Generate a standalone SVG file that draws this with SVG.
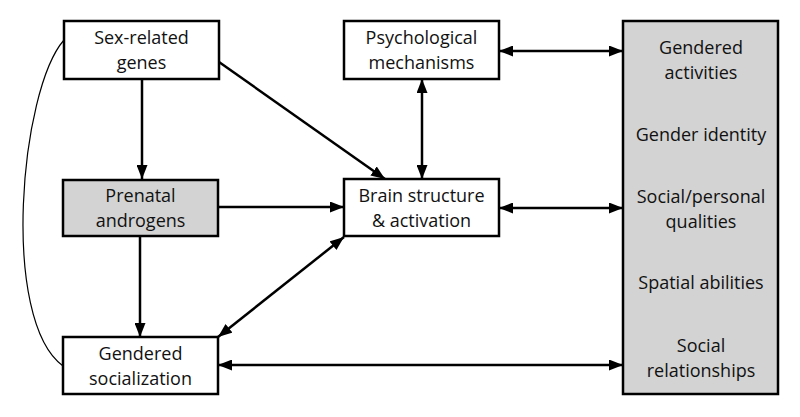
<svg xmlns="http://www.w3.org/2000/svg" width="800" height="417" viewBox="0 0 800 417">
<style>
.box{fill:#fff;stroke:#000;stroke-width:2.5}
.grey{fill:#d3d3d3}
text{font-family:"Open Sans","Liberation Sans",sans-serif;font-size:18px;fill:#111;text-anchor:middle}
.c{stroke:#000;stroke-width:2.5;fill:none}
</style>
<defs>
<marker id="ah" viewBox="0 0 14 11" refX="14" refY="5.5" markerWidth="14" markerHeight="11" markerUnits="userSpaceOnUse" orient="auto-start-reverse">
<path d="M0,0 L14,5.5 L0,11 Z" fill="#000"/>
</marker>
</defs>
<rect width="800" height="417" fill="#fff"/>
<g id="connectors">
<path d="M64,40 C20,90 0,320 63,366" stroke="#000" stroke-width="1.2" fill="none"/>
<line class="c" x1="142" y1="79" x2="142" y2="179" marker-end="url(#ah)"/>
<line class="c" x1="219" y1="62" x2="385" y2="179" marker-end="url(#ah)"/>
<line class="c" x1="218" y1="207" x2="344" y2="207" marker-end="url(#ah)"/>
<line class="c" x1="140" y1="236" x2="140" y2="337" marker-end="url(#ah)"/>
<line class="c" x1="218" y1="337" x2="344" y2="237" marker-start="url(#ah)" marker-end="url(#ah)"/>
<line class="c" x1="422" y1="79" x2="422" y2="179" marker-start="url(#ah)" marker-end="url(#ah)"/>
<line class="c" x1="499" y1="51" x2="623" y2="51" marker-start="url(#ah)" marker-end="url(#ah)"/>
<line class="c" x1="499" y1="208" x2="623" y2="208" marker-start="url(#ah)" marker-end="url(#ah)"/>
<line class="c" x1="218" y1="365" x2="623" y2="365" marker-start="url(#ah)" marker-end="url(#ah)"/>
</g>
<g id="genes">
<rect class="box" x="64" y="21" width="155" height="58"/>
<text x="141.5" y="44">Sex-related</text>
<text x="141.5" y="69">genes</text>
</g>
<g id="prenatal">
<rect class="box grey" x="63" y="180" width="155" height="56"/>
<text x="140.5" y="202">Prenatal</text>
<text x="140.5" y="227">androgens</text>
</g>
<g id="socialization">
<rect class="box" x="63" y="337" width="155" height="57"/>
<text x="140.5" y="360">Gendered</text>
<text x="140.5" y="385">socialization</text>
</g>
<g id="psychological">
<rect class="box" x="344" y="21" width="155" height="58"/>
<text x="421.5" y="44">Psychological</text>
<text x="421.5" y="69">mechanisms</text>
</g>
<g id="brain">
<rect class="box" x="344" y="179" width="155" height="57"/>
<text x="421.5" y="202">Brain structure</text>
<text x="421.5" y="227">&amp; activation</text>
</g>
<g id="outcomes">
<rect class="box grey" x="623" y="21" width="155" height="373"/>
<text x="701" y="54">Gendered</text>
<text x="701" y="79">activities</text>
<text x="701" y="141">Gender identity</text>
<text x="701" y="203">Social/personal</text>
<text x="701" y="228">qualities</text>
<text x="701" y="289">Spatial abilities</text>
<text x="701" y="352">Social</text>
<text x="701" y="377">relationships</text>
</g>
</svg>
